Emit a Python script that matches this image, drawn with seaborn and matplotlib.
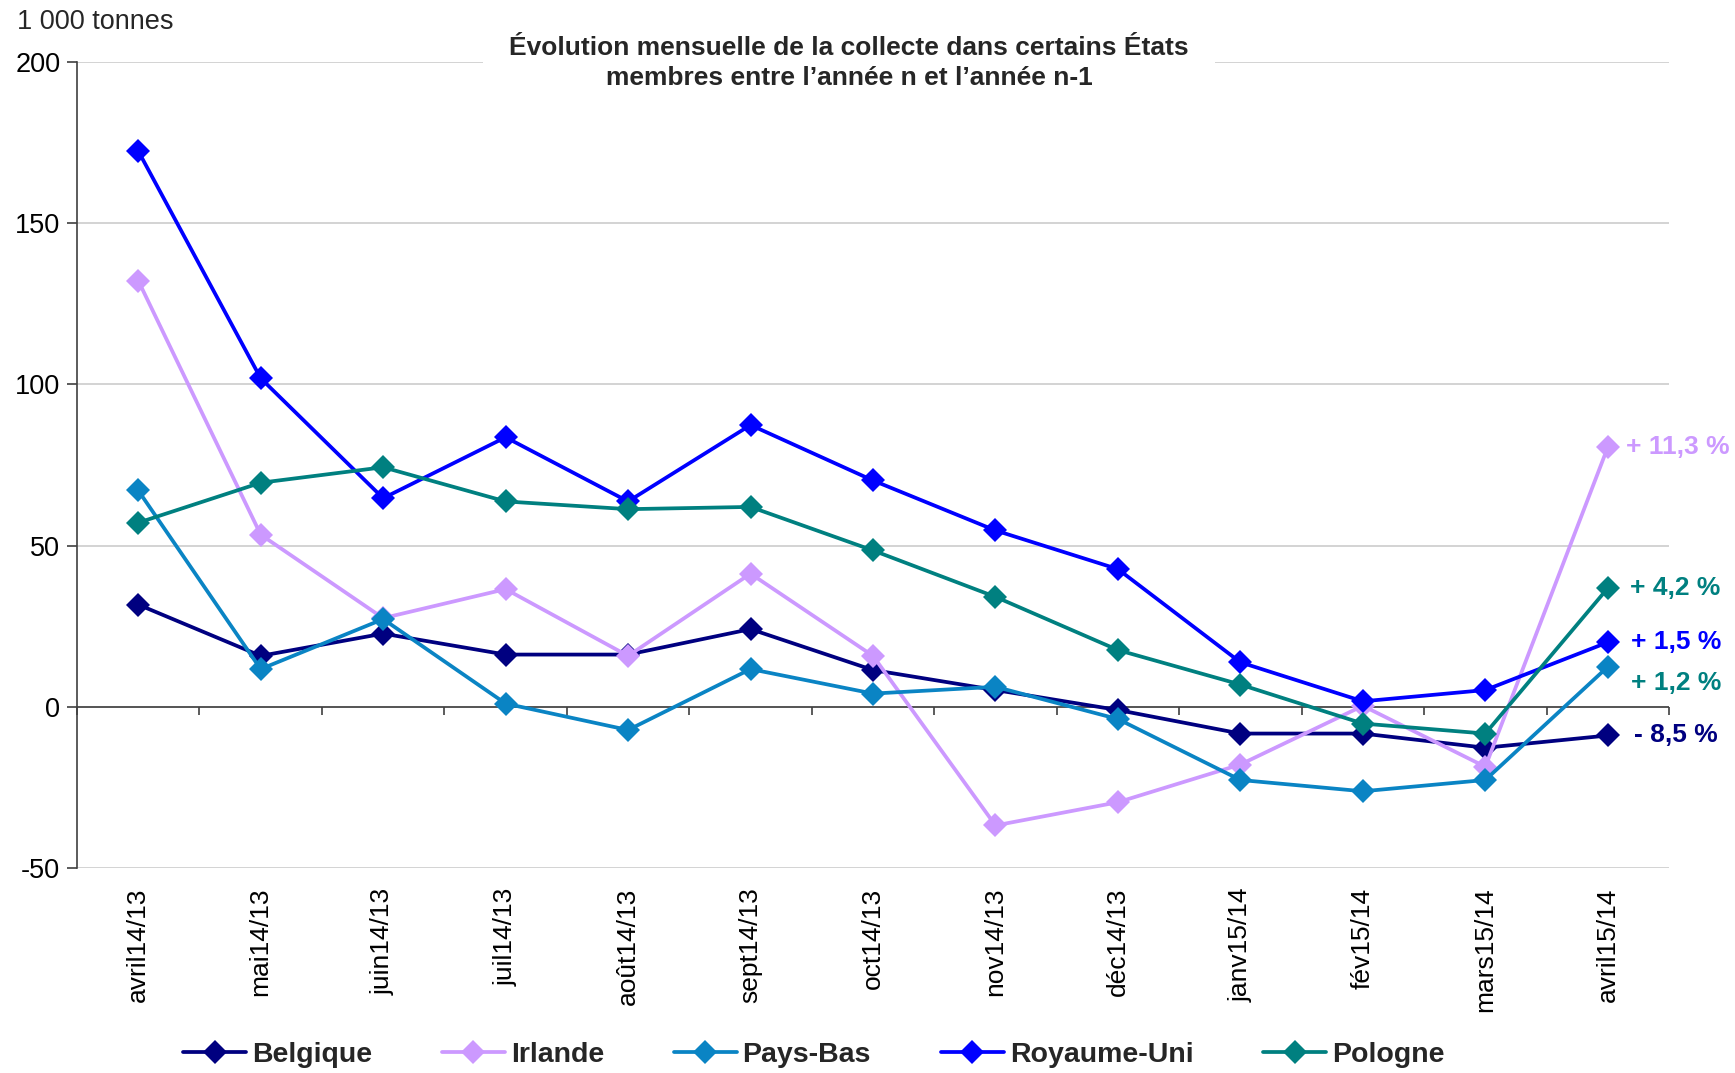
import numpy as np
import pandas as pd
import matplotlib
matplotlib.use("Agg")
import matplotlib.pyplot as plt
import seaborn as sns
from matplotlib.lines import Line2D

# ---- data ----
mois = ["avril14/13", "mai14/13", "juin14/13", "juil14/13", "août14/13", "sept14/13",
        "oct14/13", "nov14/13", "déc14/13", "janv15/14", "fév15/14", "mars15/14", "avril15/14"]
belgique = [31.7, 15.8, 22.7, 16.2, 16.2, 24.1, 11.4, 5.2, -1.0, -8.3, -8.3, -12.7, -8.9]
irlande = [132.2, 53.4, 27.5, 36.5, 15.8, 41.3, 15.8, -36.8, -29.6, -17.9, 0.3, -18.6, 80.5]
pays_bas = [67.1, 11.7, 27.2, 1.0, -7.2, 11.7, 4.1, 6.2, -3.8, -22.7, -26.2, -22.7, 12.4]
royaume_uni = [172.4, 101.9, 64.7, 83.6, 63.7, 87.4, 70.2, 54.7, 42.7, 13.8, 1.7, 5.2, 20.0]
pologne = [57.1, 69.5, 74.3, 63.7, 61.3, 62.0, 48.5, 34.1, 17.6, 6.9, -5.2, -8.3, 36.8]

pays = ["Belgique", "Irlande", "Pays-Bas", "Royaume-Uni", "Pologne"]
series = [belgique, irlande, pays_bas, royaume_uni, pologne]
couleurs = ["#000080", "#CC99FF", "#0A84C4", "#0000FF", "#008080"]
etiquettes = ["- 8,5 %", "+ 11,3 %", "+ 1,2 %", "+ 1,5 %", "+ 4,2 %"]
couleurs_etiq = ["#000080", "#CC99FF", "#008080", "#0000FF", "#008080"]
decalage_x = [19, 13, 17, 17, 16]   # label offsets, points
decalage_y = [0, 0, -12, 0, 0]

titre = "Évolution mensuelle de la collecte dans certains États\nmembres entre l’année n et l’année n-1"
unite = "1 000 tonnes"

df = pd.DataFrame({
    "mois": mois * len(pays),
    "pays": np.repeat(pays, len(mois)),
    "valeur": np.concatenate(series),
})

# ---- style ----
sns.set_theme(style="white")
plt.rcParams['font.family'] = ['Liberation Sans', 'DejaVu Sans']
plt.rcParams['axes.unicode_minus'] = False

W, H = 1735, 1073
fig = plt.figure(figsize=(W / 100, H / 100), dpi=100)
ax = fig.add_axes([77 / W, 1 - 868 / H, (1669 - 77) / W, (868 - 62) / H])

sns.lineplot(data=df, x="mois", y="valeur", hue="pays", hue_order=pays,
             palette=couleurs, marker="D", markersize=12, markeredgewidth=0,
             linewidth=2.7, sort=False, errorbar=None, legend=False, ax=ax)

ax.set_xlim(-0.5, len(mois) - 0.5)
ax.set_ylim(-50, 200)
ax.set_yticks(np.arange(-50, 201, 50))
ax.yaxis.grid(True, color="#C8C8C8", lw=1.1)
ax.set_axisbelow(True)
ax.set_xlabel("")
ax.set_ylabel("")
for s in ["top", "right", "bottom"]:
    ax.spines[s].set_visible(False)
ax.spines["left"].set_color("#404040")
ax.spines["left"].set_linewidth(1.2)

ax.tick_params(axis="y", left=True, length=7, width=1.2, color="#404040",
               labelsize=19.5, pad=5, labelcolor="black")
ax.tick_params(axis="x", bottom=False, length=0, labelsize=19, pad=14,
               labelrotation=90, labelcolor="black")
for lab in ax.get_xticklabels():
    lab.set_va("top")

# zero line with category boundary ticks
ax.axhline(0, color="#404040", lw=1.2, zorder=1.5)
ax.vlines(np.arange(len(mois) + 1) - 0.5, 0, -2.5, color="#404040", lw=1.2,
          clip_on=False, zorder=1.5)

# end labels
for serie, lbl, c, dx, dy in zip(series, etiquettes, couleurs_etiq, decalage_x, decalage_y):
    ax.annotate(lbl, xy=(len(mois) - 1, serie[-1]), xytext=(dx, dy),
                textcoords="offset points", ha="left", va="center",
                color=c, fontsize=19, fontweight="bold", annotation_clip=False)

# title & unit
fig.text(849 / W, 1 - 63 / H, titre, ha="center", va="center", fontsize=19,
         fontweight="bold", linespacing=1.32,
         bbox=dict(boxstyle="square,pad=1.0", fc="white", ec="none"))
fig.text(17 / W, 1 - 22 / H, unite, ha="left", va="center", fontsize=19.5)

# legend
handles = [Line2D([], [], color=c, marker="D", markersize=12, markeredgewidth=0, lw=2.7)
           for c in couleurs]
fig.legend(handles, pays, loc="center", bbox_to_anchor=(0.469, 0.017), ncol=5,
           frameon=False, prop=dict(weight="bold", size=20.5),
           handlelength=2.22, handletextpad=0.2, columnspacing=2.45)

fig.savefig("out.png", dpi=100)
